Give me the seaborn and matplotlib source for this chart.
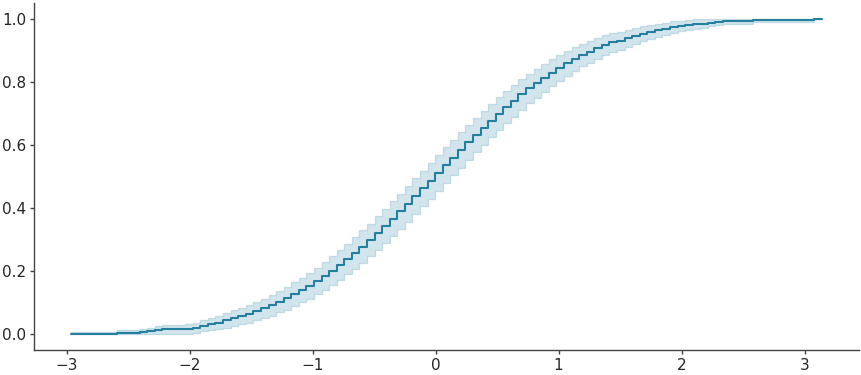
import numpy as np
import pandas as pd
import matplotlib
matplotlib.use("Agg")
import matplotlib.pyplot as plt
import seaborn as sns

# Grid positions (x) of each step
x_vals = [-2.960, -2.898, -2.837, -2.775, -2.714, -2.652, -2.590, -2.529, -2.467, -2.406,
          -2.344, -2.282, -2.221, -2.159, -2.098, -2.036, -1.974, -1.913, -1.851, -1.790,
          -1.728, -1.666, -1.605, -1.543, -1.482, -1.420, -1.358, -1.297, -1.235, -1.174,
          -1.112, -1.050, -0.989, -0.927, -0.866, -0.804, -0.742, -0.681, -0.619, -0.558,
          -0.496, -0.434, -0.373, -0.311, -0.250, -0.188, -0.126, -0.065, -0.003, 0.058,
          0.120, 0.182, 0.243, 0.305, 0.366, 0.428, 0.490, 0.551, 0.613, 0.674,
          0.736, 0.798, 0.859, 0.921, 0.982, 1.044, 1.106, 1.167, 1.229, 1.290,
          1.352, 1.414, 1.475, 1.537, 1.598, 1.660, 1.722, 1.783, 1.845, 1.906,
          1.968, 2.030, 2.091, 2.153, 2.214, 2.276, 2.338, 2.399, 2.461, 2.522,
          2.584, 2.646, 2.707, 2.769, 2.830, 2.892, 2.954, 3.015, 3.077, 3.138]

# Step values (cumulative proportion)
y_vals = [0.002, 0.002, 0.002, 0.002, 0.002, 0.002, 0.005, 0.005, 0.005, 0.008,
          0.010, 0.013, 0.016, 0.016, 0.016, 0.017, 0.020, 0.027, 0.033, 0.037,
          0.044, 0.051, 0.058, 0.065, 0.073, 0.082, 0.092, 0.103, 0.114, 0.127,
          0.140, 0.154, 0.169, 0.185, 0.202, 0.220, 0.239, 0.258, 0.278, 0.299,
          0.321, 0.344, 0.366, 0.390, 0.413, 0.438, 0.462, 0.486, 0.511, 0.536,
          0.560, 0.584, 0.608, 0.632, 0.654, 0.677, 0.699, 0.720, 0.740, 0.760,
          0.779, 0.796, 0.813, 0.829, 0.845, 0.859, 0.872, 0.885, 0.896, 0.907,
          0.917, 0.926, 0.930, 0.938, 0.945, 0.952, 0.958, 0.964, 0.969, 0.974,
          0.977, 0.980, 0.983, 0.985, 0.988, 0.990, 0.994, 0.994, 0.994, 0.994,
          0.997, 0.997, 0.997, 0.997, 0.997, 0.997, 0.997, 0.997, 1.000, 1.000]

# Half-width of the confidence band at each step
ci_half = [0.005, 0.005, 0.005, 0.005, 0.005, 0.005, 0.008, 0.008, 0.008, 0.010,
           0.011, 0.013, 0.014, 0.014, 0.014, 0.015, 0.016, 0.018, 0.020, 0.021,
           0.023, 0.025, 0.026, 0.028, 0.029, 0.031, 0.033, 0.034, 0.036, 0.038,
           0.039, 0.041, 0.042, 0.044, 0.045, 0.047, 0.048, 0.050, 0.051, 0.052,
           0.053, 0.054, 0.055, 0.055, 0.056, 0.056, 0.056, 0.057, 0.057, 0.056,
           0.056, 0.056, 0.055, 0.055, 0.054, 0.053, 0.052, 0.051, 0.050, 0.048,
           0.047, 0.046, 0.044, 0.043, 0.041, 0.039, 0.038, 0.036, 0.035, 0.033,
           0.031, 0.030, 0.029, 0.027, 0.026, 0.024, 0.023, 0.021, 0.019, 0.018,
           0.017, 0.016, 0.015, 0.014, 0.012, 0.011, 0.009, 0.009, 0.009, 0.009,
           0.006, 0.006, 0.006, 0.006, 0.006, 0.006, 0.006, 0.006, 0.000, 0.000]

x_ticks = [-3, -2, -1, 0, 1, 2, 3]
y_ticks = [0.0, 0.2, 0.4, 0.6, 0.8, 1.0]

line_color = "#2580a0"

y_arr = np.array(y_vals)
h_arr = np.array(ci_half)
lower = np.clip(y_arr - h_arr, 0, 1)
upper = np.clip(y_arr + h_arr, 0, 1)

df = pd.DataFrame({
    "x": np.concatenate([x_vals, x_vals, x_vals]),
    "y": np.concatenate([lower, y_arr, upper]),
})

sns.set_theme(style="ticks", context="notebook")
plt.rcParams["axes.edgecolor"] = "#444444"
plt.rcParams["axes.linewidth"] = 1.0
plt.rcParams["xtick.color"] = "#444444"
plt.rcParams["ytick.color"] = "#444444"
plt.rcParams["xtick.labelcolor"] = "#262626"
plt.rcParams["ytick.labelcolor"] = "#262626"

fig = plt.figure(figsize=(8.62, 3.75), dpi=100)
ax = fig.add_axes([34 / 862, 25 / 375, 825 / 862, 347 / 375])

sns.lineplot(data=df, x="x", y="y", ax=ax, color=line_color,
             estimator="median", errorbar=("pi", 100),
             drawstyle="steps-post", linewidth=1.5,
             err_kws={"step": "post", "alpha": 0.2})

ax.set_xticks(x_ticks)
ax.set_yticks(y_ticks)
ax.set_xlabel("")
ax.set_ylabel("")
ax.tick_params(axis="both", length=3, width=1.0, pad=2.5, labelsize=11)
sns.despine(ax=ax)

fig.savefig("out.png", dpi=100)
